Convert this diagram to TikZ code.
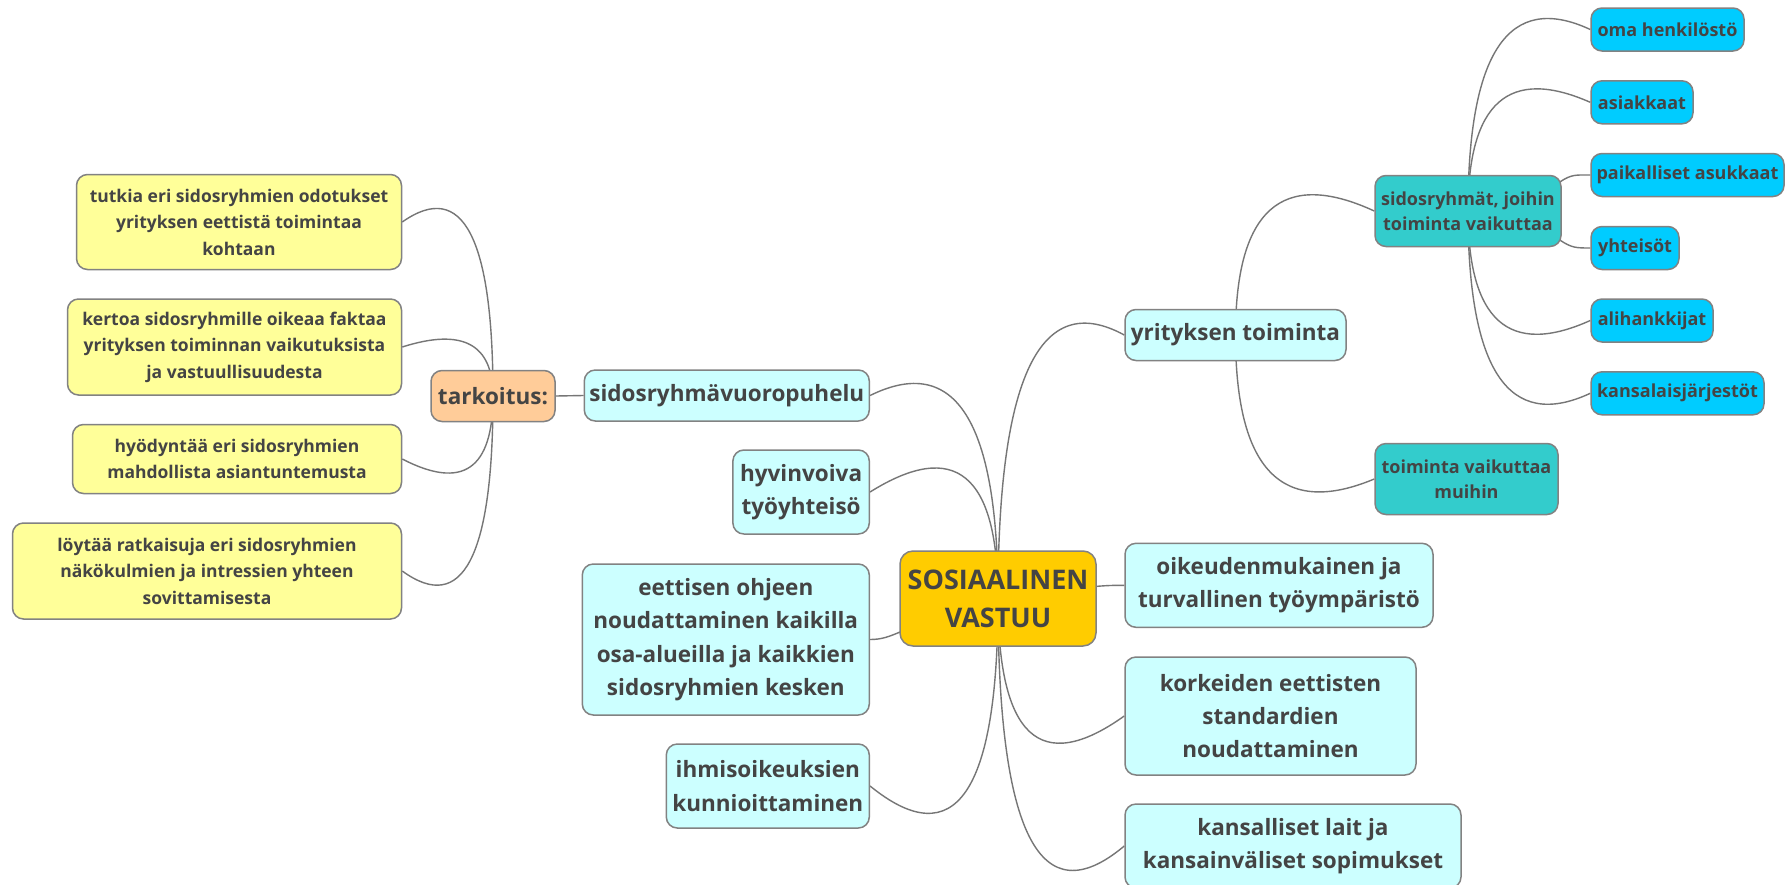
\documentclass[tikz,border=0pt]{standalone}
\usepackage{fontspec}
\setmainfont{Open Sans}
\usetikzlibrary{calc,backgrounds}
\definecolor{yelc}{HTML}{FFFF99}
\definecolor{pchc}{HTML}{FFCC99}
\definecolor{cyc}{HTML}{CCFFFF}
\definecolor{goldc}{HTML}{FFCC00}
\definecolor{tealc}{HTML}{33CCCC}
\definecolor{bluec}{HTML}{00CCFF}
\definecolor{bordc}{HTML}{828282}
\definecolor{linec}{HTML}{767676}
\definecolor{txtc}{HTML}{444444}
\tikzset{
  box/.style={draw=bordc, line width=1.5pt, rounded corners=11pt, align=center, inner sep=0pt, text=txtc},
  yel/.style={box, fill=yelc, font=\fontsize{17.5}{26.5}\selectfont\bfseries},
  pch/.style={box, fill=pchc, font=\fontsize{22.5}{33.3}\selectfont\bfseries},
  lone/.style={box, fill=cyc, font=\fontsize{22.5}{33.3}\selectfont\bfseries},
  cent/.style={box, fill=goldc, rounded corners=13pt, font=\fontsize{27}{38}\selectfont\bfseries},
  ltwo/.style={box, fill=tealc, font=\fontsize{18}{25}\selectfont\bfseries},
  lthree/.style={box, fill=bluec, font=\fontsize{18}{25}\selectfont\bfseries},
  conn/.style={draw=linec, line width=1.4pt},
}
\newcommand\qlink[3]{%
  \coordinate (qc) at ($(#1 |- #2)+(0,#3)$);
  \draw[conn] (#1) .. controls ($(#1)!0.6667!(qc)$) and ($(#2)!0.6667!(qc)$) .. (#2);
}
\begin{document}
\begin{tikzpicture}[x=1pt,y=-1pt]
\useasboundingbox (0,0) rectangle (1789,884);
% left yellow
\node[yel, minimum width=325pt, minimum height=95pt] (tut) at (239,222) {tutkia eri sidosryhmien odotukset\\yrityksen eettistä toimintaa\\kohtaan};
\node[yel, minimum width=334pt, minimum height=96pt] (ker) at (234.5,347) {kertoa sidosryhmille oikeaa faktaa\\yrityksen toiminnan vaikutuksista\\ja vastuullisuudesta};
\node[yel, minimum width=329pt, minimum height=69pt] (hyo) at (237,459) {hyödyntää eri sidosryhmien\\mahdollista asiantuntemusta};
\node[yel, minimum width=389pt, minimum height=96pt] (loy) at (207,571) {löytää ratkaisuja eri sidosryhmien\\näkökulmien ja intressien yhteen\\sovittamisesta};
\node[pch, minimum width=124pt, minimum height=51pt] (tar) at (493,396) {tarkoitus:};
% left level one
\node[lone, minimum width=285pt, minimum height=51pt] (svp) at (726.8,395.5) {sidosryhmävuoropuhelu};
\node[lone, minimum width=136.4pt, minimum height=84pt] (hyv) at (801.1,492) {hyvinvoiva\\työyhteisö};
\node[lone, minimum width=287pt, minimum height=151pt] (eet) at (725.8,639.5) {eettisen ohjeen\\noudattaminen kaikilla\\osa-alueilla ja kaikkien\\sidosryhmien kesken};
\node[lone, minimum width=203pt, minimum height=84pt] (ihm) at (767.8,786) {ihmisoikeuksien\\kunnioittaminen};
% centre
\node[cent, minimum width=196pt, minimum height=95pt] (cen) at (998,598.5) {SOSIAALINEN\\VASTUU};
% right level one
\node[lone, minimum width=221pt, minimum height=51pt] (yrit) at (1235.5,335) {yrityksen toiminta};
\node[lone, minimum width=308pt, minimum height=84pt] (oik) at (1279,585.3) {oikeudenmukainen ja\\turvallinen työympäristö};
\node[lone, minimum width=291pt, minimum height=118pt] (kork) at (1270.5,716) {korkeiden eettisten\\standardien\\noudattaminen};
\node[lone, minimum width=336pt, minimum height=84pt] (kans) at (1293,846) {kansalliset lait ja\\kansainväliset sopimukset};
% level two
\node[ltwo, minimum width=186pt, minimum height=71pt] (sid) at (1468,211) {sidosryhmät, joihin\\toiminta vaikuttaa};
\node[ltwo, minimum width=183pt, minimum height=71pt] (mui) at (1466.5,479) {toiminta vaikuttaa\\muihin};
% level three
\node[lthree, minimum width=153pt, minimum height=43pt] (oma) at (1667.5,29.5) {oma henkilöstö};
\node[lthree, minimum width=102pt, minimum height=43pt] (asi) at (1642,102.3) {asiakkaat};
\node[lthree, minimum width=193pt, minimum height=43pt] (pai) at (1687.5,175) {paikalliset asukkaat};
\node[lthree, minimum width=88pt, minimum height=43pt] (yht) at (1635,248) {yhteisöt};
\node[lthree, minimum width=122pt, minimum height=43pt] (ali) at (1652,320.5) {alihankkijat};
\node[lthree, minimum width=173pt, minimum height=43pt] (kan) at (1677.5,393.3) {kansalaisjärjestöt};
\begin{scope}[on background layer]
\fill[white] (0,0) rectangle (1789,884);
% tarkoitus
\draw[conn] (tar.east) -- (svp.west);
\qlink{tar.center}{tut.east}{-64}
\qlink{tar.center}{ker.east}{-29}
\qlink{tar.center}{hyo.east}{47}
\qlink{tar.center}{loy.east}{66}
% centre
\qlink{cen.center}{svp.east}{-63}
\qlink{cen.center}{hyv.east}{-80}
\qlink{cen.center}{ihm.east}{104}
\qlink{cen.center}{yrit.west}{-69}
\qlink{cen.center}{kork.west}{90}
\qlink{cen.center}{kans.west}{106}
\draw[conn] ($(cen.west)+(2,33)$) .. controls +(-12,5) and +(12,0) .. (eet.east);
\draw[conn] ($(cen.east)+(-2,-12)$) .. controls +(12,-1) and +(-12,0) .. (oik.west);
% yrityksen toiminta
\qlink{yrit.center}{sid.west}{-64}
\qlink{yrit.center}{mui.west}{58}
% sidosryhmat
\qlink{sid.center}{oma.west}{-57}
\qlink{sid.center}{asi.west}{-54}
\draw[conn] ($(sid.east)+(-2,-29)$) .. controls +(12,-8) and +(-14,0) .. (pai.west);
\draw[conn] ($(sid.east)+(-2,29)$) .. controls +(12,8) and +(-14,0) .. (yht.west);
\qlink{sid.center}{ali.west}{55}
\qlink{sid.center}{kan.west}{57}
\end{scope}
\end{tikzpicture}
\end{document}
